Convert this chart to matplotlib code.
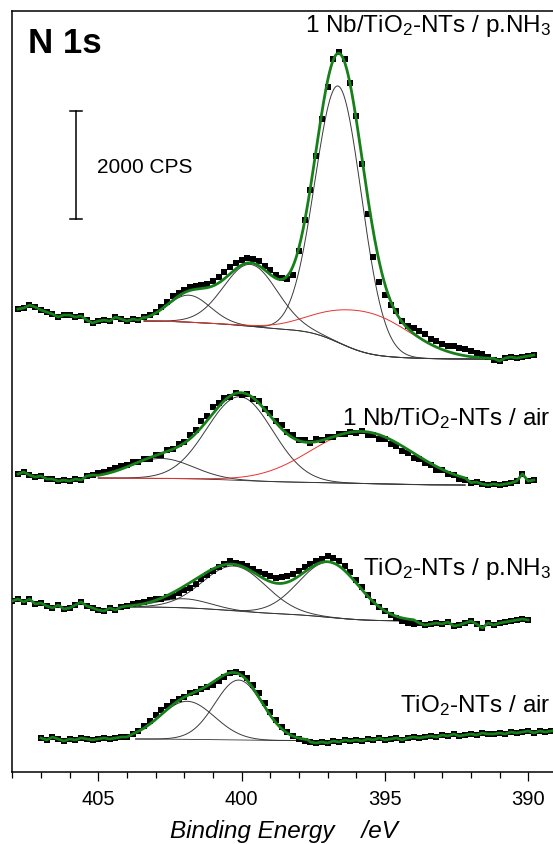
import numpy as np
import matplotlib.pyplot as plt
from matplotlib.ticker import MultipleLocator

plt.rcParams['font.family'] = ['Liberation Sans', 'DejaVu Sans']
plt.rcParams['mathtext.fontset'] = 'custom'
plt.rcParams['mathtext.rm'] = 'Liberation Sans'
plt.rcParams['mathtext.it'] = 'Liberation Sans:italic'
plt.rcParams['mathtext.bf'] = 'Liberation Sans:bold'

# measured N 1s spectra (CPS), 0.2 eV steps going down from the start energy
be_step = 0.2

s1_start = 407.8   # 1 Nb/TiO2-NTs / p.NH3
s1_cps = [1574, 1593, 1648, 1611, 1556, 1519, 1482, 1426, 1463, 1463,
          1426, 1445, 1370, 1315, 1352, 1370, 1352, 1426, 1389, 1352,
          1389, 1370, 1426, 1463, 1519, 1611, 1704, 1815, 1871, 1926,
          1982, 2000, 2019, 2037, 2093, 2167, 2259, 2352, 2426, 2482,
          2519, 2500, 2463, 2371, 2296, 2204, 2148, 2130, 2204, 2648,
          3222, 3778, 4408, 5093, 5686, 6204, 6334, 6204, 5760, 5149,
          4260, 3334, 2537, 2074, 1833, 1648, 1537, 1352, 1259, 1222,
          1167, 1111, 1019, 982, 926, 889, 889, 852, 833, 796,
          759, 741, 685, 630, 611, 667, 685, 667, 685, 704, 722]

s2_start = 407.8   # 1 Nb/TiO2-NTs / air
s2_cps = [519, 556, 500, 463, 482, 426, 426, 389, 407, 389,
          426, 407, 482, 500, 537, 556, 593, 630, 667, 685,
          735, 750, 790, 805, 865, 880, 960, 975, 1070, 1120,
          1240, 1335, 1500, 1600, 1760, 1825, 1930, 1950, 2015, 1990,
          1995, 1915, 1865, 1730, 1645, 1505, 1420, 1300, 1235, 1140,
          1145, 1100, 1160, 1150, 1200, 1210, 1255, 1265, 1290, 1285,
          1310, 1250, 1235, 1170, 1160, 1080, 1030, 950, 900, 820,
          790, 715, 680, 600, 585, 510, 495, 435, 415, 360,
          370, 333, 315, 333, 315, 333, 352, 389, 519, 389, 407]

s3_start = 408.0   # TiO2-NTs / p.NH3
s3_cps = [667, 704, 648, 704, 611, 630, 574, 537, 593, 519,
          537, 593, 648, 574, 537, 500, 482, 537, 500, 556,
          574, 611, 630, 648, 685, 704, 704, 741, 759, 815,
          870, 907, 982, 1074, 1148, 1222, 1296, 1352, 1408, 1370,
          1352, 1315, 1259, 1204, 1167, 1130, 1093, 1111, 1130, 1167,
          1222, 1296, 1352, 1408, 1445, 1500, 1463, 1408, 1315, 1204,
          1056, 926, 778, 648, 556, 482, 407, 352, 296, 259,
          241, 259, 222, 241, 259, 241, 278, 204, 222, 259,
          296, 241, 167, 259, 222, 259, 278, 296, 315, 333, 315]

s4_start = 407.0   # TiO2-NTs / air
s4_cps = [630, 593, 648, 611, 574, 611, 593, 630, 611, 593,
          611, 630, 611, 630, 648, 648, 704, 759, 852, 945,
          1056, 1148, 1222, 1296, 1352, 1389, 1463, 1482, 1537, 1574,
          1611, 1685, 1759, 1833, 1852, 1815, 1741, 1611, 1463, 1278,
          1111, 963, 833, 741, 667, 611, 574, 556, 537, 556,
          537, 574, 556, 593, 574, 593, 574, 611, 593, 630,
          593, 611, 630, 593, 630, 648, 630, 648, 667, 648,
          685, 667, 704, 667, 685, 704, 685, 722, 704, 704,
          722, 704, 741, 722, 741, 759, 722, 759, 741, 759, 778, 759]

labels = ['1 Nb/TiO$_2$-NTs / p.NH$_3$', '1 Nb/TiO$_2$-NTs / air',
          'TiO$_2$-NTs / p.NH$_3$', 'TiO$_2$-NTs / air']
offsets = [7000, 5000, 2500, 0]

# fitted components: centre (eV), height (CPS), FWHM (eV); red = broad one
s1_pos = [401.84, 399.69, 396.62, 395.6]
s1_h = [500, 1148, 4750, 759]
s1_fwhm = [1.75, 2.2, 1.9, 3.55]
s1_red = [False, False, False, True]
s1_bg = (1352, 648)          # Shirley background, high-BE / low-BE level
s1_win = (403.4, 391.2)      # fit window

s2_pos = [402.8, 400.06, 395.8]
s2_h = [370, 1550, 963]
s2_fwhm = [2.59, 2.71, 4.24]
s2_red = [False, False, True]
s2_bg = (444, 315)
s2_win = (405.0, 392.2)

s3_pos = [402.0, 400.25, 396.95]
s3_h = [167, 830, 1019]
s3_fwhm = [2.12, 2.59, 2.47]
s3_red = [False, False, False]
s3_bg = (556, 300)
s3_win = (403.9, 394.0)

s4_pos = [401.9, 400.1]
s4_h = [704, 1111]
s4_fwhm = [2.24, 1.95]
s4_red = [False, False]
s4_bg = (611, 583)
s4_win = (403.7, 397.7)


def gauss(e, c, h, w):
    s = w / 2.3548
    return h * np.exp(-(e - c) ** 2 / (2 * s * s))


def draw_spectrum(ax, start, cps, off, pos, h, fwhm, red, bg, win):
    be = start - be_step * np.arange(len(cps))
    cps = np.array(cps, float)
    e = np.linspace(win[0], win[1], 500)
    comps = [gauss(e, c, hh, w) for c, hh, w in zip(pos, h, fwhm)]
    tot = np.sum(comps, axis=0)
    area = np.concatenate([[0], np.cumsum((tot[1:] + tot[:-1]) / 2)])
    base = bg[1] + (bg[0] - bg[1]) * (1 - area / area[-1])

    ax.plot(e, base + off, color='#333333', lw=0.6, zorder=1)
    for c, r in zip(comps, red):
        ax.plot(e, base + c + off, color='#e8322e' if r else '#3a3a3a',
                lw=0.7, zorder=1)
    ax.plot(be, cps + off, 's', color='k', ms=5, mew=0, zorder=2)

    left = be > win[0]
    right = be < win[1]
    gx = np.concatenate([be[left], e, be[right]])
    gy = np.concatenate([cps[left], base + tot, cps[right]])
    ax.plot(gx, gy + off, color='#17801a', lw=2.0, zorder=3)


fig = plt.figure(figsize=(5.53, 8.45), dpi=100)
W, H = 553.0, 845.0
ax = fig.add_axes([12.3 / W, 72 / H, 573.2 / W, 761.3 / H])

draw_spectrum(ax, s1_start, s1_cps, offsets[0], s1_pos, s1_h, s1_fwhm, s1_red, s1_bg, s1_win)
draw_spectrum(ax, s2_start, s2_cps, offsets[1], s2_pos, s2_h, s2_fwhm, s2_red, s2_bg, s2_win)
draw_spectrum(ax, s3_start, s3_cps, offsets[2], s3_pos, s3_h, s3_fwhm, s3_red, s3_bg, s3_win)
draw_spectrum(ax, s4_start, s4_cps, offsets[3], s4_pos, s4_h, s4_fwhm, s4_red, s4_bg, s4_win)

ax.set_xlim(408, 388)
ax.set_ylim(0, 14100)
ax.xaxis.set_major_locator(MultipleLocator(5))
ax.xaxis.set_minor_locator(MultipleLocator(1))
ax.tick_params(axis='x', which='major', direction='out', length=6.5, width=0.9,
               labelsize=14.5, pad=6)
ax.tick_params(axis='x', which='minor', direction='out', length=4.5, width=0.9)
ax.set_yticks([])
for sp in ax.spines.values():
    sp.set_linewidth(1.1)

ax.set_xlabel('Binding Energy    /eV', fontsize=17.5, style='italic')
ax.xaxis.set_label_coords((284 - 12.3) / 573.2, -0.062)

# 2000 CPS scale bar
ax.plot([405.78, 405.78], [10242, 12242], color='k', lw=1.1)
ax.plot([405.56, 406.0], [10242, 10242], color='k', lw=1.1)
ax.plot([405.56, 406.0], [12242, 12242], color='k', lw=1.1)
ax.text(405.04, 11223, '2000 CPS', fontsize=15, va='center', ha='left')

fig.text(28 / W, 1 - 53 / H, 'N 1s', fontsize=25, fontweight='bold',
         va='baseline', ha='left')

label_y = [32, 425, 575, 712]
for lab, yy in zip(labels, label_y):
    fig.text(551 / W, 1 - yy / H, lab, fontsize=17.5, ha='right', va='baseline')

fig.savefig('out.png', dpi=100)
